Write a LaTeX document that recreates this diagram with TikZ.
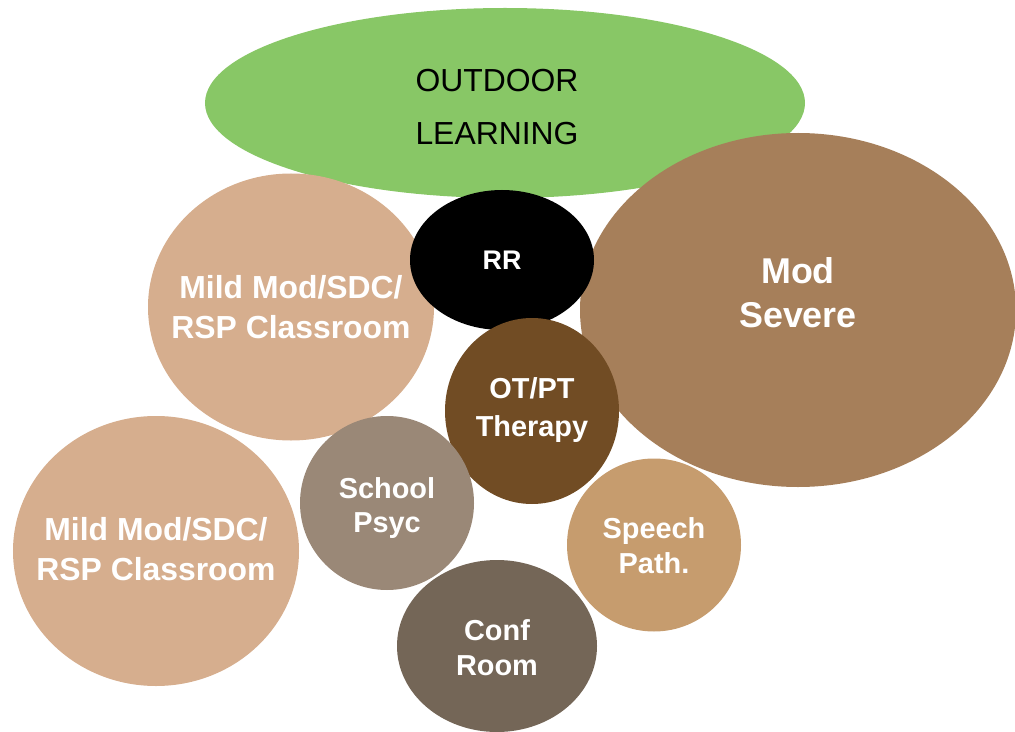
\documentclass[tikz,border=0pt]{standalone}
\usepackage{fontspec}
\setmainfont{Liberation Sans}
\usetikzlibrary{shapes.geometric}

\definecolor{grass}{HTML}{88C766}
\definecolor{sand}{HTML}{D6AE8E}
\definecolor{clay}{HTML}{A67F5A}
\definecolor{bark}{HTML}{714C24}
\definecolor{stone}{HTML}{9A8877}
\definecolor{wheat}{HTML}{C69C6E}
\definecolor{mud}{HTML}{746657}

\tikzset{
  room/.style={ellipse,inner sep=0pt,draw=none},
  roomtext/.style={text=white,align=center,inner sep=0pt,
    font=\bfseries\fontsize{29}{35}\selectfont},
  bigtext/.style={roomtext,font=\bfseries\fontsize{32}{40}\selectfont},
}

\begin{document}
\begin{tikzpicture}[x=1bp,y=-1bp]
  \useasboundingbox (0,0) rectangle (1015,732);
  % outdoor area across the top
  \node[room,fill=grass,minimum width=600bp,minimum height=190bp,
    label={[roomtext,text=black,font=\fontsize{32}{54}\selectfont,xshift=-8bp,yshift=-4bp]center:OUTDOOR\\LEARNING}] (outdoor) at (505,103) {};
  % classrooms
  \node[room,fill=sand,minimum width=286bp,minimum height=267bp,
    label={[bigtext]center:Mild Mod/SDC/\\RSP Classroom}] (mildA) at (291,307) {};
  \node[room,fill=sand,minimum width=286bp,minimum height=270bp,
    label={[bigtext,yshift=2bp]center:Mild Mod/SDC/\\RSP Classroom}] (mildB) at (156,551) {};
  \node[room,fill=clay,minimum width=436bp,minimum height=354bp,
    label={[roomtext,font=\bfseries\fontsize{36}{44}\selectfont,yshift=17bp]center:Mod\\Severe}] (modsev) at (798,310) {};
  % support rooms
  \node[room,fill=black,minimum width=184bp,minimum height=140bp,
    label={[roomtext,font=\bfseries\fontsize{27}{32}\selectfont]center:RR}] (rr) at (502,260) {};
  \node[room,fill=bark,minimum width=174bp,minimum height=186bp,
    label={[roomtext,font=\bfseries\fontsize{29}{39}\selectfont,yshift=1bp]center:OT/PT\\Therapy}] (otpt) at (532,411) {};
  \node[room,fill=stone,minimum width=174bp,minimum height=174bp,
    label={[roomtext,yshift=-5bp]center:School\\Psyc}] (psyc) at (387,503) {};
  \node[room,fill=wheat,minimum width=174bp,minimum height=173bp,
    label={[roomtext,yshift=-1bp]center:Speech\\Path.}] (speech) at (654,545) {};
  \node[room,fill=mud,minimum width=200bp,minimum height=172bp,
    label={[roomtext,yshift=-2bp]center:Conf\\Room}] (conf) at (497,646) {};
\end{tikzpicture}
\end{document}
